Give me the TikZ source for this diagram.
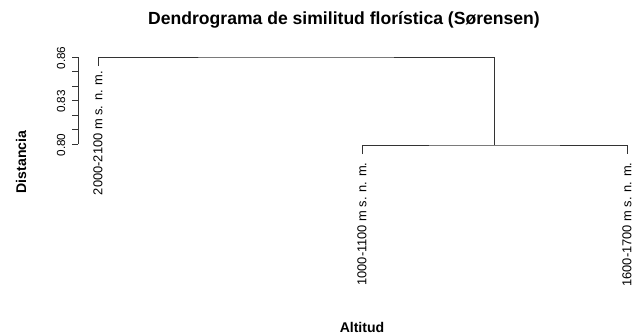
\documentclass[tikz,border=0pt]{standalone}
\usepackage{fontspec}
\setmainfont{Liberation Sans}
\usetikzlibrary{positioning}

\tikzset{
	leaflabel/.style={rotate=90, anchor=east, inner sep=0pt, font=\fontsize{11}{13}\selectfont},
	ticklabel/.style={rotate=90, inner sep=0pt, font=\fontsize{10}{12}\selectfont},
	axistitle/.style={inner sep=0pt, font=\fontsize{12}{14}\selectfont\bfseries},
	dendro/.style={line width=0.4pt, color=black!80}
}

\begin{document}
\begin{tikzpicture}[x=0.03cm, y=-0.03cm]
	\useasboundingbox[fill=white] (0,0) rectangle (637,334);
	% title
	\node[inner sep=0pt, font=\fontsize{15}{17}\selectfont\bfseries] (title) at (344,20) {Dendrograma de similitud florística (Sørensen)};
	% axis
	\coordinate (top) at (78,57);
	\coordinate (bot) at (78,144);
	\draw[dendro] (top) -- (bot);
	\foreach \i in {0,...,6}
		\draw[dendro] (78,57+\i*14.5) -- ++(-6,0);
	\node[ticklabel] (t86) at (61,58) {0.86};
	\node[ticklabel] (t83) at (61,101.5) {0.83};
	\node[ticklabel] (t80) at (61,145) {0.80};
	\node[axistitle, rotate=90] (ylab) at (21,162) {Distancia};
	\node[axistitle] (xlab) at (362,327) {Altitud};
	% leaves
	\coordinate (leafA) at (98,66);
	\coordinate (leafB) at (362,154);
	\coordinate (leafC) at (627,154);
	% merges
	\coordinate (mBC) at (494,145);
	\coordinate (mAll) at (296,57);
	\draw[dendro] (leafB) |- (mBC) -| (leafC);
	\draw[dendro] (leafA) |- (mAll) -| (mBC);
	% labels
	\node[leaflabel] (labA) at ([yshift=-4pt]leafA) {2000-2100 m s. n. m.};
	\node[leaflabel] (labB) at ([yshift=-7pt]leafB) {1000-1100 m s. n. m.};
	\node[leaflabel] (labC) at ([yshift=-7pt]leafC) {1600-1700 m s. n. m.};
\end{tikzpicture}
\end{document}
